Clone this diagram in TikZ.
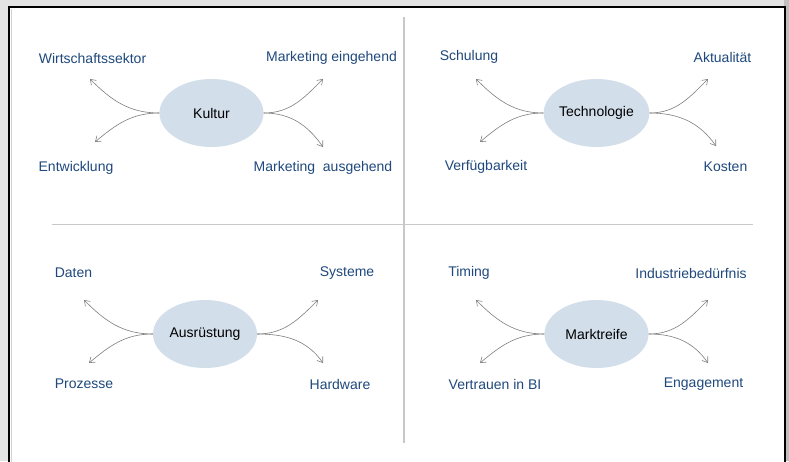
\documentclass[tikz,border=0pt]{standalone}
\usepackage{fontspec}
\setmainfont{Liberation Sans}
\usetikzlibrary{arrows.meta,shapes.geometric}
\definecolor{lbl}{HTML}{1F497D}
\definecolor{ellfill}{HTML}{D3DEEB}
\definecolor{divider}{HTML}{C8C8C8}
\definecolor{arrgray}{HTML}{7F7F7F}
\begin{document}
\begin{tikzpicture}[x=1pt,y=-1pt,
  hub/.style={ellipse, fill=ellfill, minimum width=104pt, minimum height=68pt, inner sep=0pt,
    font=\fontsize{14}{16}\selectfont, text=black},
  lab/.style={font=\fontsize{14}{16}\selectfont, text=lbl, inner sep=0pt, anchor=center},
  arr/.style={draw=arrgray, line width=0.6pt, -{Straight Barb[length=5pt,width=7pt]}},
  divline/.style={draw=divider, line width=1.8pt}]
\useasboundingbox (0,0) rectangle (789,461);
% background and frame
\fill[gray!22] (0,0) rectangle (789,461);
\fill[gray!50] (784,0) rectangle (789,461);
\fill[white] (9,7) rectangle (785,470);
\draw[black, line width=2pt] (9,475) -- (9,7) -- (785,7) -- (785,475);
\draw[gray!35, line width=1pt] (11.5,9) -- (11.5,470);
% dividers
\coordinate (hL) at (52,224.5);
\coordinate (hR) at (753,224.5);
\coordinate (vT) at (404,17);
\coordinate (vB) at (404,443);
\draw[divline] (hL) -- (hR);
\draw[divline] (vT) -- (vB);
% hubs
\node[hub] (k) at (211.5,113) {Kultur};
\node[hub] (t) at (596.5,113) {Technologie};
\node[hub] (a) at (205,334) {Ausrüstung};
\node[hub] (m) at (596.5,334) {Marktreife};
% labels
\node[lab] (k1) at (92.5,58) {Wirtschaftssektor};
\node[lab] (k2) at (331.5,58) {Marketing eingehend};
\node[lab] (k3) at (76,168) {Entwicklung};
\node[lab] (k4) at (323,168) {Marketing\ \ ausgehend};
\node[lab] (t1) at (469,57) {Schulung};
\node[lab] (t2) at (722.5,57) {Aktualität};
\node[lab] (t3) at (486,167) {Verfügbarkeit};
\node[lab] (t4) at (725.5,167) {Kosten};
\node[lab] (a1) at (73.5,273) {Daten};
\node[lab] (a2) at (347,273) {Systeme};
\node[lab] (a3) at (84,384) {Prozesse};
\node[lab] (a4) at (340,384) {Hardware};
\node[lab] (m1) at (469,273) {Timing};
\node[lab] (m2) at (691,273) {Industriebedürfnis};
\node[lab] (m3) at (495,384) {Vertrauen in BI};
\node[lab] (m4) at (703.5,384) {Engagement};
% arrow tips
\coordinate (kUL) at (90,79);
\coordinate (kLL) at (95,142);
\coordinate (kUR) at (323,79);
\coordinate (kLR) at (323,147);
\coordinate (tUL) at (476,79);
\coordinate (tLL) at (480,142);
\coordinate (tUR) at (708,79);
\coordinate (tLR) at (716,146);
\coordinate (aUL) at (84,300);
\coordinate (aLL) at (89,363);
\coordinate (aUR) at (318,300);
\coordinate (aLR) at (323,363);
\coordinate (mUL) at (476,300);
\coordinate (mLL) at (480,363);
\coordinate (mUR) at (708,300);
\coordinate (mLR) at (708,363);
% arrows
\foreach \h in {k,t,a,m}{
  \draw[arr] (\h.west) to[out=180,in=-45] (\h UL);
  \draw[arr] (\h.west) to[out=180,in=40] (\h LL);
  \draw[arr] (\h.east) to[out=0,in=-135] (\h UR);
  \draw[arr] (\h.east) to[out=0,in=125] (\h LR);
}
\end{tikzpicture}
\end{document}
